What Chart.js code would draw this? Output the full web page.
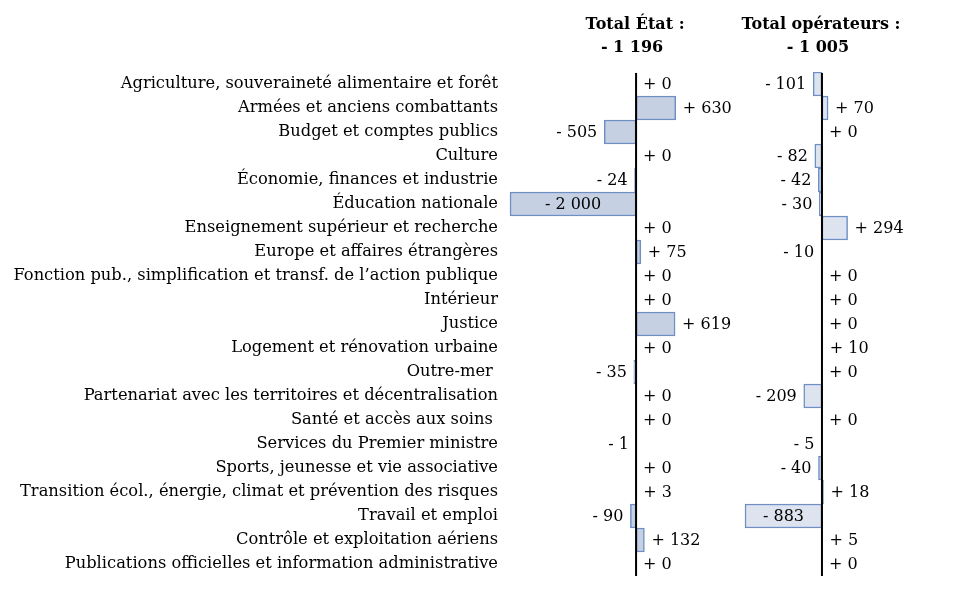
<!DOCTYPE html>
<html lang="fr">
<head>
<meta charset="utf-8">
<script src="https://cdn.jsdelivr.net/npm/chart.js@4/dist/chart.umd.min.js"></script>
<style>
    html, body { margin: 0; padding: 0; background: #fff; }
    #wrap { position: relative; width: 968px; height: 611px; }
    canvas { position: absolute; top: 0; }
    #etatChart { left: 0; }
    #operateursChart { left: 740px; }
</style>
</head>
<body>
<div id="wrap">
    <canvas id="etatChart" width="740" height="611"></canvas>
    <canvas id="operateursChart" width="228" height="611"></canvas>
</div>
<script>
// Missions
const missions = [
    'Agriculture, souveraineté alimentaire et forêt',
    'Armées et anciens combattants',
    'Budget et comptes publics',
    'Culture',
    'Économie, finances et industrie',
    'Éducation nationale',
    'Enseignement supérieur et recherche',
    'Europe et affaires étrangères',
    'Fonction pub., simplification et transf. de l’action publique',
    'Intérieur',
    'Justice',
    'Logement et rénovation urbaine',
    'Outre-mer ',
    'Partenariat avec les territoires et décentralisation',
    'Santé et accès aux soins ',
    'Services du Premier ministre',
    'Sports, jeunesse et vie associative',
    'Transition écol., énergie, climat et prévention des risques',
    'Travail et emploi',
    'Contrôle et exploitation aériens',
    'Publications officielles et information administrative'
];

// Variations (ETPT)
const etatValues = [0, 630, -505, 0, -24, -2000, 0, 75, 0, 0, 619, 0, -35, 0, 0, -1, 0, 3, -90, 132, 0];
const operateursValues = [-101, 70, 0, -82, -42, -30, 294, -10, 0, 0, 0, 10, 0, -209, 0, -5, -40, 18, -883, 5, 0];

const etatTitle = ['Total État :', '- 1 196'];
const operateursTitle = ['Total opérateurs :', '- 1 005'];

const FONT = "'DejaVu Serif', serif";

function formatValue(v) {
    const s = Math.abs(v).toString().replace(/\B(?=(\d{3})+(?!\d))/g, ' ');
    return (v < 0 ? '- ' : '+ ') + s;
}

// titres, axe zéro et étiquettes de valeurs
const panelPlugin = {
    id: 'panel',
    afterDatasetsDraw(chart, args, opts) {
        const ctx = chart.ctx;
        const x0 = chart.scales.x.getPixelForValue(0);
        const area = chart.chartArea;

        // ligne du zéro
        ctx.save();
        ctx.strokeStyle = '#000';
        ctx.lineWidth = 2;
        ctx.beginPath();
        ctx.moveTo(x0, area.top + 1);
        ctx.lineTo(x0, area.bottom);
        ctx.stroke();

        // titres
        ctx.fillStyle = '#000';
        ctx.font = 'bold 16px ' + FONT;
        ctx.textAlign = 'center';
        ctx.textBaseline = 'middle';
        ctx.fillText(opts.title[0], x0 - 1, 25);
        ctx.fillText(opts.title[1], x0 - 4, 48);

        // valeurs
        ctx.font = '16px ' + FONT;
        const meta = chart.getDatasetMeta(0);
        const data = chart.data.datasets[0].data;
        meta.data.forEach((bar, i) => {
            const v = data[i];
            const txt = formatValue(v);
            const w = ctx.measureText(txt).width;
            const y = bar.y + 1;
            if (v >= 0) {
                ctx.textAlign = 'left';
                ctx.fillText(txt, Math.max(bar.x, x0) + 7, y);
            } else if (Math.abs(bar.x - bar.base) > w + 16) {
                ctx.textAlign = 'center';
                ctx.fillText(txt, (bar.x + bar.base) / 2, y);
            } else {
                ctx.textAlign = 'right';
                ctx.fillText(txt, bar.x - 7, y);
            }
        });
        ctx.restore();
    }
};

function makePanel(canvasId, values, title, fill, xMin, xMax, showLabels, padLeft, padRight) {
    const ctx = document.getElementById(canvasId).getContext('2d');
    return new Chart(ctx, {
        type: 'bar',
        data: {
            labels: missions,
            datasets: [{
                data: values,
                backgroundColor: fill,
                borderColor: '#6f8fc4',
                borderWidth: c => (c.raw === 0 ? 0 : 1.5),
                borderSkipped: false,
                barPercentage: 1,
                categoryPercentage: 1
            }]
        },
        options: {
            indexAxis: 'y',
            responsive: false,
            animation: false,
            devicePixelRatio: 1,
            layout: {
                padding: { top: 72, bottom: 35, left: padLeft, right: padRight }
            },
            scales: {
                x: {
                    display: false,
                    min: xMin,
                    max: xMax
                },
                y: {
                    display: showLabels,
                    grid: { display: false, drawTicks: false },
                    border: { display: false },
                    ticks: {
                        padding: 7,
                        color: '#000',
                        font: { family: FONT, size: 16.3 }
                    },
                    afterFit(scale) {
                        scale.width = showLabels ? 505 : 0;
                    }
                }
            },
            plugins: {
                legend: { display: false },
                tooltip: { enabled: false },
                panel: { title: title }
            }
        },
        plugins: [panelPlugin]
    });
}

makePanel('etatChart', etatValues, etatTitle, '#c5d0e3', -2080, 1570, true, 0, 5);
makePanel('operateursChart', operateursValues, operateursTitle, '#dde4f0', -906, 1446, false, 3, 20);
</script>
</body>
</html>
